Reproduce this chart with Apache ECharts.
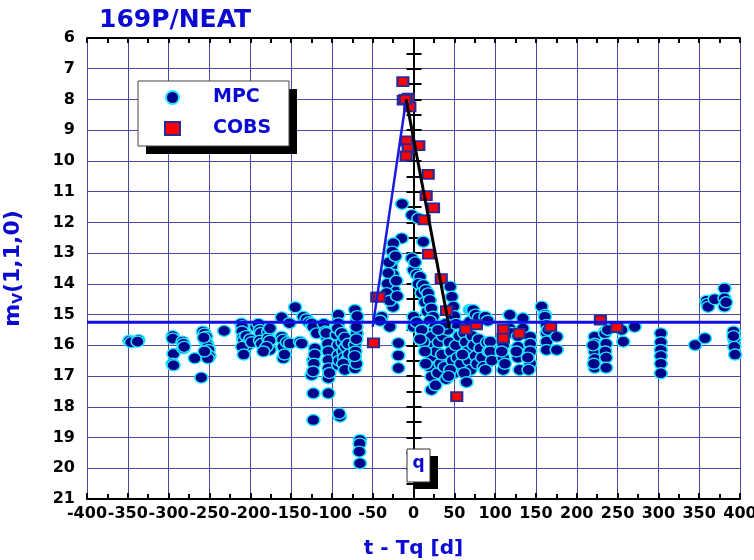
<!DOCTYPE html>
<html><head><meta charset="utf-8">
<script src="https://cdn.jsdelivr.net/npm/echarts@6/dist/echarts.min.js"></script>
<style>html,body{margin:0;padding:0;background:#fff}#c{width:754px;height:560px}</style>
</head><body><div id="c"></div>
<script>
// ---- data ----
const xTicks = [-400,-350,-300,-250,-200,-150,-100,-50,0,50,100,150,200,250,300,350,400];
const yTicks = [6,7,8,9,10,11,12,13,14,15,16,17,18,19,20,21];

const mpc = [
[-348,15.85],[-346,15.9],[-337,15.83],[-338,15.88],
[-295,15.7],[-295,15.78],[-294,16.28],[-295,16.6],[-294,16.65],
[-283,15.88],[-282,15.95],[-282,16.1],[-281,16.05],
[-268,16.42],[-260,17.05],
[-258,15.55],[-256,15.62],[-254,15.72],[-255,15.85],[-253,15.95],[-252,16.05],[-251,16.15],[-254,16.25],[-250,16.35],[-252,16.42],[-256,16.2],[-257,15.75],
[-232,15.53],
[-211,15.29],[-210,15.38],[-210,15.55],[-209,15.75],[-208,15.85],[-205,15.7],[-204,15.95],[-203,16.0],[-210,16.05],[-208,16.3],[-200,15.8],[-198,15.9],
[-193,15.4],[-190,15.3],[-188,15.5],[-187,15.6],[-188,15.85],[-186,15.95],[-178,15.55],[-178,15.77],[-176,15.85],[-176,16.15],[-180,16.05],[-184,16.2],[-175.8,15.45],
[-161.5,15.09],[-161.5,15.72],[-160,15.82],[-159.5,16.05],[-159.5,16.42],[-158,16.3],[-155,15.9],[-152,15.28],[-151.3,15.94],
[-145,14.76],[-139,15.88],[-137,15.94],
[-135,15.07],[-131,15.15],[-128,15.25],[-124.7,15.29],[-123,15.4],
[-118.6,15.61],[-120.7,16.1],[-122.7,16.48],[-121,16.3],[-122,16.6],[-124.7,16.97],[-123,16.85],[-122.7,17.56],[-122.7,18.43],
[-110,15.3],[-108,15.55],[-106,15.75],[-105,15.95],[-104.3,16.2],[-104.3,16.48],[-104.3,16.75],[-104.3,17.07],[-103,16.9],[-104.3,17.56],[-107,15.6],
[-92.1,15.01],[-92.1,15.28],[-94.1,15.66],[-92.1,15.99],[-92.1,16.32],[-92.1,16.64],[-91,16.5],[-90.1,18.32],[-91,18.22],[-93,15.45],
[-88,15.6],[-87,15.9],[-86,16.2],[-85,16.4],[-84,15.75],[-83,16.05],[-82,16.5],[-81,16.7],[-80,15.95],[-79,16.3],[-86,16.6],[-84,16.8],
[-71.7,14.85],[-69.6,15.18],[-69.6,15.61],[-71.7,15.99],[-71.7,16.48],[-71.7,16.75],[-70,15.4],[-70,15.8],[-71,16.2],[-70,16.6],[-72,16.35],[-69,15.05],
[-65.6,19.08],[-66,19.2],[-66.4,19.46],[-65.6,19.84],
[-14,11.4],[-2,11.76],[6,11.87],[12,12.63],[-14.5,12.52],[-24.7,12.68],
[-26,12.95],[-25,13.2],[-27,13.45],[-25,13.7],[-26,13.95],[-24,14.2],[-26,14.45],[-25,14.75],[-30,13.3],[-31,13.65],[-32,14.0],[-33,14.3],[-29,14.55],[-22,13.1],[-21,13.9],[-20,14.4],
[-39,15.07],[-29,15.4],[-18.5,15.93],[-18.5,16.33],[-18.5,16.74],[-41,15.2],
[-2,13.17],[0,13.55],[2,13.3],[4,13.7],[8,13.77],[6,14.0],[12,14.04],[10,14.3],[15,14.2],[18,14.31],[14,14.6],[20,14.53],[17,14.9],[22,14.8],[24,15.07],[20,15.2],[26,15.4],[22,15.6],[0,15.07],[0,15.4],[4,15.25],
[22,15.72],[24,16.05],[22,16.37],[20,16.7],[22,17.02],[22,17.45],[27,17.3],[30,16.9],[33,16.6],[28,16.2],[31,15.9],[35,16.3],[38,16.7],[40,17.1],[36,15.7],[42,15.5],[44,15.9],[46,16.2],[48,16.5],[50,16.9],[52,16.0],[54,16.4],[56,15.7],[58,16.6],[45,14.09],[47,14.42],[49,14.74],[50,15.05],[52,15.3],[45,16.8],[43,17.0],[39,15.3],[12,15.9],[14,16.2],[15,16.6],[10,15.5],[8,15.8],[30,15.5],
[69,14.85],[69,15.23],[71,14.85],[73,14.85],[76,15.0],[80,15.1],[88,15.07],[91,15.2],
[62,15.6],[64,15.9],[66,16.2],[68,16.5],[70,16.8],[72,15.7],[74,16.0],[76,16.35],[78,16.6],[80,15.8],[82,16.1],[84,16.4],[86,16.7],[88,16.8],[90,15.9],[92,16.2],[94,15.88],[94,16.2],[96,16.5],[60,16.3],[62,16.9],[65,17.2],
[110,15.7],[110,16.0],[110,16.4],[110,16.8],[108,16.2],[112,16.6],
[118,15.01],[118,15.45],[120,15.6],
[134,15.12],[134,15.45],[128,15.7],[128,16.05],[128,16.4],[130,16.8],[126,16.2],
[143,15.72],[143,15.95],[143,16.2],[143,16.59],[141,16.8],[140,16.4],
[157,14.74],[161,15.01],[161,15.07],[163,15.34],[163,15.6],[163,15.88],[163,16.15],[165,15.5],
[175.5,15.72],[175.5,16.15],
[222,15.72],[222,15.95],[222,16.2],[222,16.45],[222,16.73],[220,16.0],[221,16.6],
[235,15.55],[234.6,15.61],[236,15.95],[235,16.2],[236,16.4],[236,16.73],[238,15.5],
[255,15.5],[257,15.88],[271,15.4],
[303,15.61],[303,15.9],[303,16.15],[303,16.35],[303,16.6],[303,16.91],
[345,15.99],[357,15.77],
[359,14.55],[360,14.65],[361,14.75],[369,14.5],[381,14.15],[381,14.47],[381,14.74],[383,14.6],
[392,15.55],[393,15.8],[393,16.05],[394,16.3],[392,15.7]
];

const cobs = [
[-13,7.42],[-12.5,8.02],[-6.5,7.96],[-4.5,8.24],[-10,8.0],[-8.5,9.35],[-6.5,9.6],[6.5,9.5],[-9,9.84],
[18,10.44],[15.5,11.13],[24.5,11.53],[13,11.92],[18.5,13.03],[34,13.83],[40.5,14.87],
[64,15.48],[77,15.33],[-45,14.43],[-42,14.43],[-49,15.92],[53,17.67],
[110,15.48],[110,15.77],[129.5,15.61],[168,15.39],[229,15.18],[249,15.42]
];

const meanLine = [[-400,15.25],[400,15.25]];
const riseLine = [[-50,15.4],[-9,8.0]];
const fallLine = [[-9,8.0],[44,15.45]];

// ---- chart ----
const blue = '#0a0ad2';
const chart = echarts.init(document.getElementById('c'), null, {renderer:'canvas'});
const lab = {color:'#000', fontFamily:'DejaVu Sans', fontWeight:'bold', fontSize:16, showMinLabel:true, showMaxLabel:true, hideOverlap:false};
chart.setOption({
  animation:false,
  backgroundColor:'#fff',
  title:{text:'169P/NEAT', left:94, top:3, textStyle:{color:blue, fontFamily:'DejaVu Sans', fontWeight:'bold', fontSize:25}},
  grid:{left:87, right:14, top:38, bottom:61, show:false, containLabel:false, outerBoundsMode:'none'},
  legend:{
    orient:'vertical', left:159, top:83, itemGap:12, itemWidth:15, itemHeight:13, z:20,
    data:['MPC','COBS'],
    textStyle:{color:blue, fontFamily:'DejaVu Sans', fontWeight:'bold', fontSize:19, padding:[0,0,0,28]}
  },
  graphic:[
    {type:'rect', z:15, shape:{x:146, y:89, width:151, height:65}, style:{fill:'#000'}},
    {type:'rect', z:16, shape:{x:138, y:81, width:151, height:65}, style:{fill:'#fff', stroke:'#444', lineWidth:1}},
    {type:'rect', z:15, shape:{x:415, y:456, width:23, height:33}, style:{fill:'#000'}},
    {type:'rect', z:16, shape:{x:407, y:449, width:23, height:33}, style:{fill:'#fff', stroke:'#333', lineWidth:1}},
    {type:'text', z:17, style:{text:'q', x:418.5, y:464, textAlign:'center', textVerticalAlign:'middle', fill:blue, font:'bold 17px "DejaVu Sans"'}}
  ],
  xAxis:[{
    type:'value', min:xTicks[0], max:xTicks[xTicks.length-1], interval:xTicks[1]-xTicks[0],
    position:'bottom',
    name:'t - Tq [d]', nameLocation:'middle', nameGap:40,
    nameTextStyle:{color:blue, fontFamily:'DejaVu Sans', fontWeight:'bold', fontSize:20},
    axisLine:{lineStyle:{color:'#000', width:2}},
    axisTick:{inside:true, length:6, lineStyle:{color:'#000', width:2}},
    minorTick:{show:true, splitNumber:2, length:5, lineStyle:{color:'#000', width:2}},
    splitLine:{show:true, lineStyle:{color:'#4848a8', width:1}},
    axisLabel:Object.assign({margin:7}, lab)
  },{
    type:'value', min:xTicks[0], max:xTicks[xTicks.length-1], interval:xTicks[1]-xTicks[0],
    position:'top',
    axisLine:{show:true, lineStyle:{color:'#000', width:2}},
    axisTick:{show:true, inside:true, length:5, lineStyle:{color:'#000', width:2}},
    minorTick:{show:true, splitNumber:2, length:5, lineStyle:{color:'#000', width:2}},
    splitLine:{show:false}, axisLabel:{show:false}
  }],
  yAxis:[{
    type:'value', inverse:true, min:yTicks[0], max:yTicks[yTicks.length-1], interval:yTicks[1]-yTicks[0],
    position:'left',
    name:'{m|m}{s|V}{m|(1,1,0)}', nameLocation:'middle', nameGap:62, nameRotate:90,
    nameTextStyle:{rich:{
      m:{color:blue, fontFamily:'DejaVu Sans', fontWeight:'bold', fontSize:22},
      s:{color:blue, fontFamily:'DejaVu Sans', fontWeight:'bold', fontSize:14, verticalAlign:'bottom', padding:[10,0,0,0]}
    }},
    axisLine:{lineStyle:{color:'#000', width:2}},
    axisTick:{inside:true, length:8, lineStyle:{color:'#000', width:2}},
    minorTick:{show:true, splitNumber:2, length:8, lineStyle:{color:'#000', width:2}},
    splitLine:{show:true, lineStyle:{color:'#4848a8', width:1}},
    axisLabel:Object.assign({margin:12}, lab)
  },{
    type:'value', inverse:true, min:yTicks[0], max:yTicks[yTicks.length-1], interval:yTicks[1]-yTicks[0],
    position:'right',
    axisLine:{show:true, lineStyle:{color:'#000', width:2}},
    axisTick:{show:true, inside:true, length:7, lineStyle:{color:'#000', width:2}},
    minorTick:{show:true, splitNumber:2, length:7, lineStyle:{color:'#000', width:2}},
    splitLine:{show:false}, axisLabel:{show:false}
  }],
  series:[
    {name:'MPC', type:'scatter', data:mpc, symbol:'circle', symbolSize:[13,11], z:3,
     itemStyle:{color:'#000088', borderColor:'#22e6ff', borderWidth:1.5, opacity:1}},
    {name:'COBS', type:'scatter', data:cobs, symbol:'rect', symbolSize:[11,9], z:4,
     itemStyle:{color:'#ff0000', borderColor:'#2a2a96', borderWidth:2, opacity:1}},
    {name:'mean', type:'line', data:meanLine, symbol:'none', silent:true, z:6,
     lineStyle:{color:'#1010e6', width:3}},
    {name:'rise', type:'line', data:riseLine, symbol:'none', silent:true, z:6,
     lineStyle:{color:'#1a1ae0', width:2.5}},
    {name:'fall', type:'line', data:fallLine, symbol:'none', silent:true, z:6,
     lineStyle:{color:'#000', width:3}}
  ]
});
</script></body></html>
